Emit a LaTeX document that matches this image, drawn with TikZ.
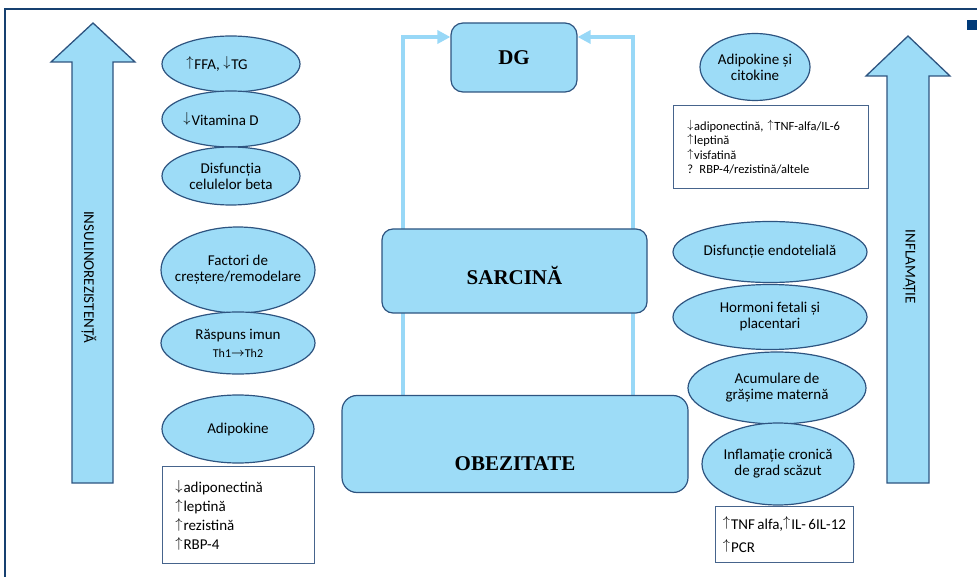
\documentclass[tikz,border=0pt]{standalone}
\usepackage{fontspec}
\setmainfont{Carlito}
\newfontfamily\serifb{Liberation Serif}
\usetikzlibrary{shapes.geometric,arrows.meta}
\pgfdeclarelayer{bg}
\pgfsetlayers{bg,main}
\definecolor{fillb}{RGB}{157,220,247}
\definecolor{edgeb}{RGB}{46,84,128}
\definecolor{connb}{RGB}{152,216,247}
\definecolor{navy}{RGB}{22,64,112}
\definecolor{navysq}{RGB}{0,58,120}
\definecolor{boxedge}{RGB}{70,100,140}
\newcommand{\myup}{\raisebox{0.17em}{$\uparrow$}\kern0.06em}
\newcommand{\mydn}{\raisebox{0.17em}{$\downarrow$}\kern0.06em}
\newcommand{\myra}{\raisebox{0.05em}{$\boldsymbol{\rightarrow}$}}
\usepackage{amsmath}
\begin{document}
\begin{tikzpicture}[x=1pt,y=-1pt,
  ell/.style={ellipse,draw=edgeb,fill=fillb,line width=1.2pt,inner xsep=-10pt,inner ysep=-4pt,align=center,font=\fontsize{15}{16}\selectfont},
  ctr/.style={draw=edgeb,fill=fillb,line width=1.2pt,rounded corners=12pt,inner sep=0pt,font=\fontsize{21}{24}\selectfont\serifb\bfseries},
  tbox/.style={draw=boxedge,fill=white,line width=0.9pt,align=left,inner ysep=0pt},
  big/.style={draw=edgeb,fill=fillb,line width=1.3pt,line join=miter},
  conn/.style={draw=connb,line width=4.5pt,-{Triangle[length=13pt,width=13pt]}},
  side/.style={font=\fontsize{15}{16}\selectfont,rotate=-90,inner sep=0pt}]
\useasboundingbox (0,0) rectangle (977,577);

% frame
\draw[navy,line width=1.3pt] (5,577) -- (5,9) -- (977,9);
\fill[navysq] (967,20) rectangle (977,30);

% big arrows
\draw[big] (72,483) -- (72,62) -- (51,62) -- (93,23) -- (135,62) -- (113,62) -- (113,483) -- cycle;
\node[side] (insul) at (89,277) {INSULINOREZISTENȚĂ};
\draw[big] (887,483) -- (887,76) -- (866,76) -- (908,36) -- (950,76) -- (929,76) -- (929,483) -- cycle;
\node[side] (infl) at (909,267) {INFLAMAȚIE};

% central boxes
\node[ctr,minimum width=126pt,minimum height=69pt] (dg) at (514,57.5) {DG};
\node[ctr,rounded corners=11pt,minimum width=265pt,text height=56pt,text depth=28pt] (sarc) at (514.5,271) {SARCINĂ};
\node[ctr,rounded corners=15pt,minimum width=346pt,text height=75pt,text depth=22pt] (obez) at (515,444) {OBEZITATE};

\coordinate (lc) at (403,37);
\coordinate (rc) at (633,37);
\begin{pgfonlayer}{bg}
\draw[conn] (obez.north -| lc) -- (lc) -- (dg.west |- lc);
\draw[conn] (obez.north -| rc) -- (rc) -- (dg.east |- rc);
\end{pgfonlayer}

% left ellipses
\node[ell,minimum width=138pt,minimum height=56pt] (e1) at (231,64) {\myup FFA, \mydn TG\kern28pt};
\node[ell,minimum width=138pt,minimum height=56pt] (e2) at (231,119) {\mydn Vitamina D\kern20pt};
\node[ell,minimum width=138pt,minimum height=58pt] (e3) at (231,176) {Disfuncția\\celulelor beta};
\node[ell,minimum width=154pt,minimum height=86pt] (e4) at (238,270) {Factori de\\creștere/remodelare};
\node[ell,minimum width=154pt,minimum height=62pt] (e5) at (238,343) {Răspuns imun\\[2pt]{\fontsize{12}{14}\selectfont Th1\myra Th2}};
\node[ell,minimum width=152pt,minimum height=68pt] (e6) at (238,429) {Adipokine};
\node[tbox,anchor=north west,text width=126pt,inner xsep=13pt,minimum height=97pt,font=\fontsize{15}{19}\selectfont] (lbox) at (162,466) {\mydn adiponectină\\\myup leptină\\\myup rezistină\\\myup RBP-4};

% right ellipses
\node[ell,minimum width=110pt,minimum height=67pt] (r1) at (755,67) {Adipokine și\\citokine};
\node[tbox,anchor=north west,text width=167pt,inner xsep=14pt,minimum height=83pt,font=\fontsize{12.5}{14.5}\selectfont] (rbox) at (673,105) {\mydn adiponectină, \myup TNF-alfa/IL-6\\\myup leptină\\\myup visfatină\\? RBP-4/rezistină/altele};
\node[ell,minimum width=194pt,minimum height=61pt] (r2) at (770,252) {Disfuncție endotelială};
\node[ell,minimum width=194pt,minimum height=65pt] (r3) at (770,317) {Hormoni fetali și\\placentari};
\node[ell,minimum width=178pt,minimum height=72pt] (r4) at (777,388) {Acumulare de\\grășime maternă};
\node[ell,minimum width=152pt,minimum height=82pt] (r5) at (778,464) {Inflamație cronică\\de grad scăzut};
\node[tbox,anchor=north west,minimum width=138pt,minimum height=56pt,font=\fontsize{15}{23}\selectfont] (bbox) at (715,506) {\myup TNF\,alfa,\myup IL-\,6IL-12\\\myup PCR};
\end{tikzpicture}
\end{document}
